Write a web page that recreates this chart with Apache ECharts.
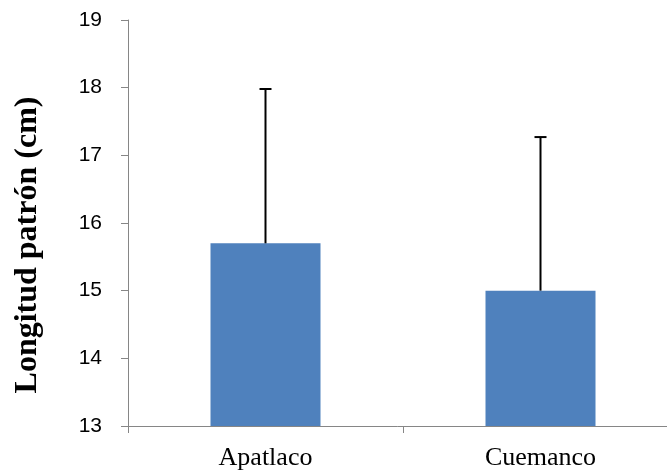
<!DOCTYPE html>
<html>
<head>
<meta charset="utf-8">
<script src="https://cdn.jsdelivr.net/npm/echarts@6/dist/echarts.min.js"></script>
<style>html,body{margin:0;padding:0;background:#fff;}#c{width:667px;height:472px;}</style>
</head>
<body>
<div id="c"></div>
<script>
var categories = ["Apatlaco", "Cuemanco"];
var means = [15.70, 15.00];
var errors = [2.28, 2.27];
var yTicks = [13, 14, 15, 16, 17, 18, 19];

var chart = echarts.init(document.getElementById('c'), null, {renderer: 'canvas'});
var errData = categories.map(function (c, i) { return [i, means[i], means[i] + errors[i]]; });
chart.setOption({
  animation: false,
  backgroundColor: '#ffffff',
  grid: {left: 128, top: 20, width: 550, height: 406, containLabel: false, outerBoundsMode: 'none'},
  xAxis: {
    type: 'category',
    data: categories,
    boundaryGap: true,
    axisLine: {lineStyle: {color: '#868686', width: 1}},
    axisTick: {show: true, length: 7, lineStyle: {color: '#868686'}},
    axisLabel: {margin: 19, color: '#000', fontFamily: 'Liberation Serif', fontSize: 26}
  },
  yAxis: {
    type: 'value',
    min: yTicks[0],
    max: yTicks[yTicks.length - 1],
    interval: 1,
    name: 'Longitud patrón (cm)',
    nameLocation: 'middle',
    nameGap: 84,
    nameTextStyle: {fontFamily: 'Liberation Serif', fontWeight: 'bold', fontSize: 32, color: '#000', padding: [0, 44, 0, 0]},
    axisLine: {show: true, lineStyle: {color: '#868686', width: 1}},
    axisTick: {show: true, length: 7, lineStyle: {color: '#868686'}},
    splitLine: {show: false},
    axisLabel: {margin: 26, color: '#000', fontFamily: 'Liberation Sans', fontSize: 21}
  },
  series: [
    {
      type: 'bar',
      data: means,
      barWidth: '40%',
      itemStyle: {color: '#4F81BD'}
    },
    {
      type: 'custom',
      data: errData,
      z: 10,
      renderItem: function (params, api) {
        var x = api.value(0);
        var base = api.coord([x, api.value(1)]);
        var top = api.coord([x, api.value(2)]);
        var hw = 6;
        var st = {stroke: '#000', lineWidth: 2};
        return {
          type: 'group',
          children: [
            {type: 'line', shape: {x1: base[0], y1: base[1], x2: top[0], y2: top[1]}, style: st},
            {type: 'line', shape: {x1: top[0] - hw, y1: top[1], x2: top[0] + hw, y2: top[1]}, style: st}
          ]
        };
      }
    }
  ]
});
</script>
</body>
</html>
